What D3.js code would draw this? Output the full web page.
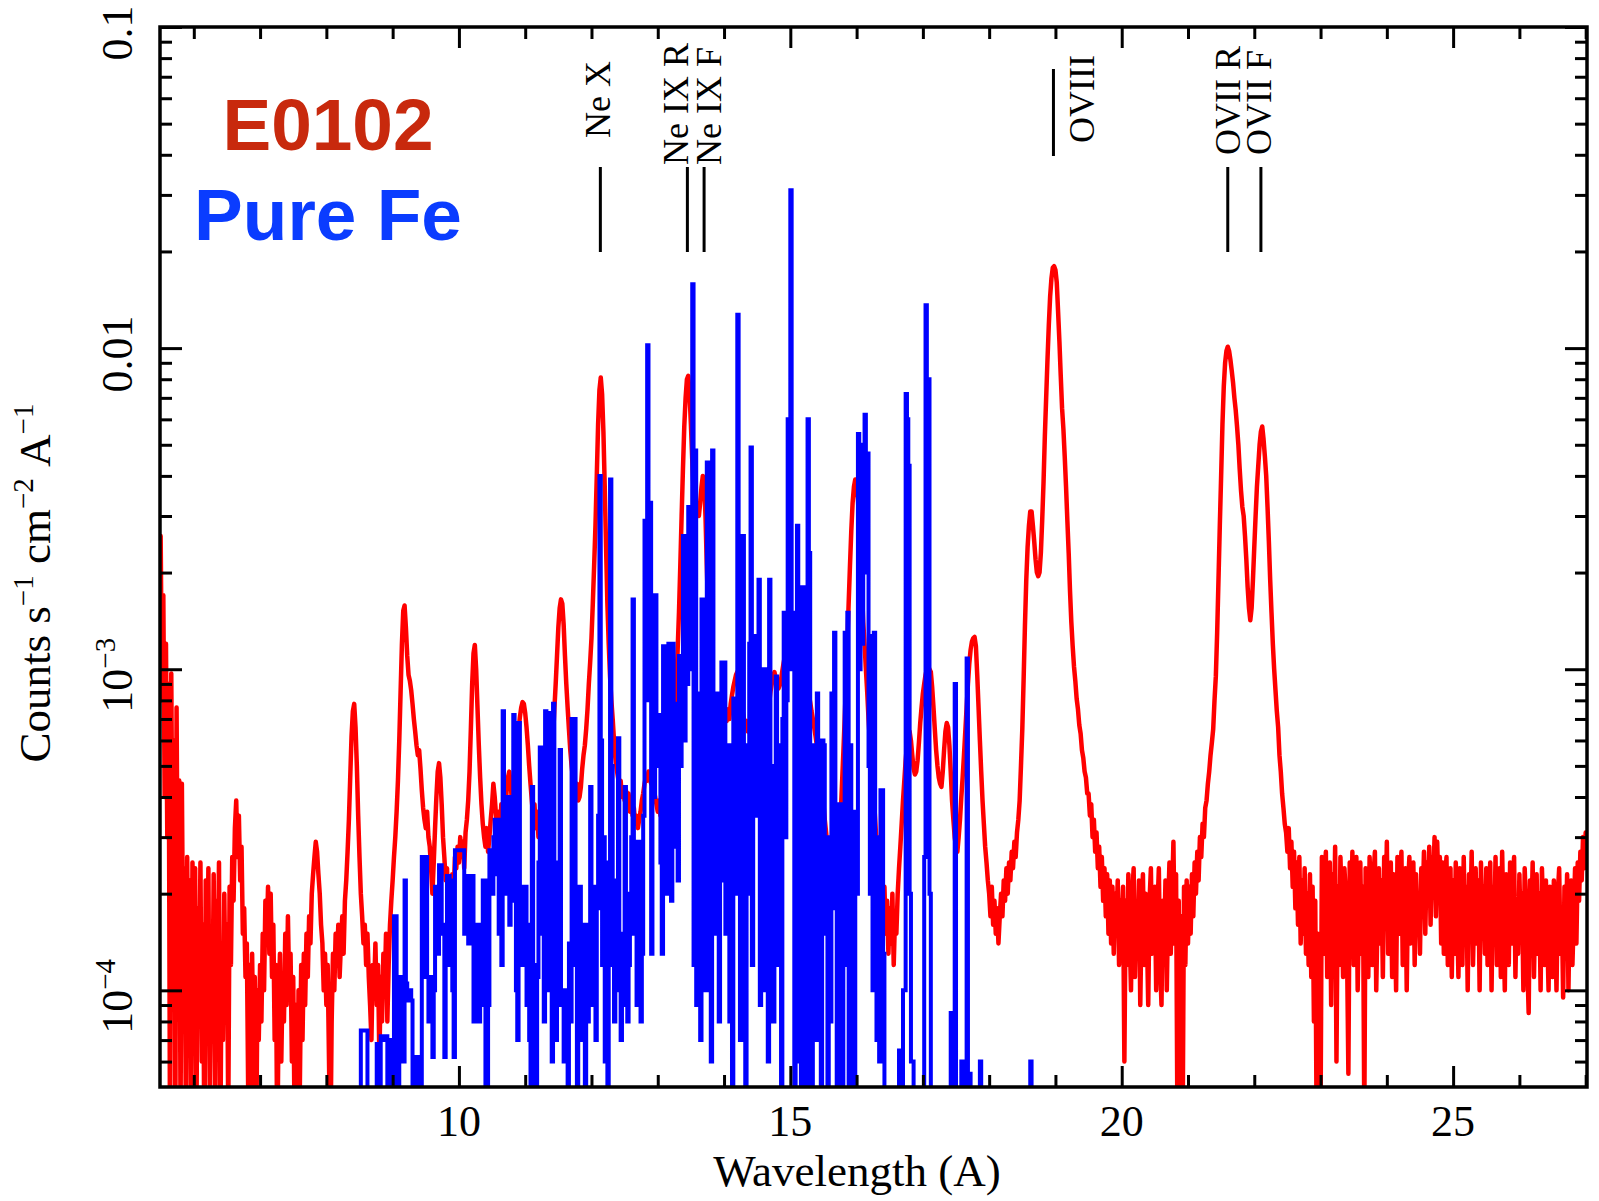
<!DOCTYPE html>
<html>
<head>
<meta charset="utf-8">
<script src="https://cdn.jsdelivr.net/npm/d3@7"></script>
<style>
  html, body { margin: 0; padding: 0; background: #fff; }
  svg { display: block; }
</style>
</head>
<body>
<div id="chart"></div>
<script>
// counts in units of 1e-4 counts s-1 cm-2 A-1
const countUnit = 1e-4;

// E0102 spectrum, 0.02 A bins from 5.50 A
const e0102Start = 5.50;
const e0102Step = 0.02;
const e0102Counts = [
  26, 8, 17, 4, 12, 3, 9, 0.4, 9.7, 2, 6, 0.3, 7.6, 1.5, 4.5, 0.4, 4.4, 1.2, 2.4, 0.4, 2.6, 0.8, 2.2, 0.3, 2.5,
  1.2, 2.4, 0.4, 1.8, 0.9, 2.5, 0.6, 1.6, 0.3, 2.2, 1.0, 2.4, 0.5, 1.5, 0.8, 2.3, 0.4, 1.9, 1.1, 2.5, 0.3, 1.4, 0.7, 2.0, 0.9,
  1.6, 0.4, 2.1, 1.2, 2.6, 1.9, 3.2, 3.9, 2.6, 3.5, 2.2, 2.8, 1.5, 1.8, 1.1, 1.4, 0.5, 1.2, 0.3, 1.3, 0.6, 1.1, 0.3, 1.0, 0.7,
  1.2, 0.8, 1.5, 1.0, 1.9, 1.4, 2.1, 1.3, 2.0, 1.1, 1.6, 0.7, 1.2, 0.3, 0.9, 1.3, 0.6, 1.1, 0.8, 1.5, 0.9, 1.7, 1.0, 1.3, 0.6,
  1.1, 0.4, 0.9, 0.3, 1.0, 0.5, 1.2, 0.7, 1.3, 0.9, 1.5, 1.1, 1.7, 1.4, 2.0, 2.3, 2.6, 2.9, 2.7, 2.3, 2.0, 1.6, 1.4, 1.0, 1.3,
  0.9, 1.2, 0.6, 0.3, 0.8, 1.3, 1.0, 1.5, 1.2, 1.6, 1.1, 1.4, 1.7, 1.3, 1.9, 2.2, 2.7, 3.4, 4.6, 6.2, 7.4, 7.8, 6.6, 5.0, 3.5,
  2.6, 2.0, 1.7, 1.4, 1.6, 1.2, 1.5, 1.1, 0.9, 0.7, 1.2, 1.0, 1.4, 0.9, 1.2, 0.6, 1.1, 0.8, 1.3, 1.0, 1.5, 0.8, 1.2, 1.6, 1.9,
  2.2, 2.6, 3.0, 3.6, 4.5, 6.0, 8.5, 12.0, 15.2, 15.8, 13.5, 11.0, 9.6, 9.2, 8.6, 7.8, 7.0, 6.4, 5.8, 5.4, 5.6, 4.9, 4.2, 3.7, 3.4,
  3.2, 3.6, 3.0, 2.8, 2.4, 2.0, 2.5, 3.2, 4.0, 4.8, 5.1, 4.6, 3.8, 3.0, 2.6, 2.2, 2.4, 1.9, 1.6, 2.0, 2.3, 2.0, 2.6, 2.4, 2.8,
  2.5, 3.0, 2.6, 2.9, 2.4, 3.1, 3.4, 3.9, 4.8, 6.5, 9.0, 11.2, 11.9, 10.0, 7.6, 5.8, 4.6, 3.8, 3.3, 3.0, 2.8, 3.2, 2.7, 3.0, 3.4,
  3.8, 4.4, 4.0, 3.5, 3.1, 3.6, 3.2, 3.8, 3.4, 4.0, 3.6, 4.2, 4.6, 4.8, 4.4, 3.9, 4.3, 4.8, 5.3, 5.9, 6.5, 7.1, 7.6, 7.9, 7.8,
  7.3, 6.6, 5.8, 5.0, 4.4, 3.9, 3.5, 3.8, 3.2, 3.6, 3.0, 3.4, 2.9, 3.3, 3.7, 3.2, 3.8, 3.4, 4.0, 4.5, 5.2, 6.2, 7.5, 9.0, 11.0,
  13.5, 15.5, 16.5, 16.0, 13.8, 11.0, 9.0, 7.6, 6.5, 5.6, 5.0, 4.6, 4.3, 4.0, 4.4, 3.9, 4.0, 4.3, 4.9, 5.4, 5.8, 6.5, 7.5, 9.0, 10.5,
  12.5, 16, 21, 28, 40, 58, 74, 81, 72, 55, 37, 24, 16, 12, 9.5, 8.0, 7.0, 6.0, 5.3, 4.9, 4.6, 4.3, 4.5, 4.0, 4.2,
  3.9, 4.2, 3.8, 4.1, 3.6, 3.9, 3.5, 3.7, 3.3, 3.5, 3.2, 3.4, 3.6, 3.9, 4.1, 4.4, 4.6, 4.5, 4.8, 4.6, 4.4, 4.7, 4.3, 4.0, 3.8,
  3.6, 3.9, 3.5, 3.8, 3.4, 3.7, 3.5, 3.9, 3.6, 4.0, 4.3, 5.0, 6.0, 7.5, 9.0, 11.5, 15, 21, 30, 42, 57, 70, 80, 82, 72,
  58, 45, 36, 31, 30, 32, 30, 33, 37, 40, 38, 30, 21, 15, 11, 9.5, 8.5, 7.5, 7.0, 6.6, 6.4, 6.8, 6.2, 6.6, 6.3,
  6.8, 7.2, 6.9, 7.5, 7.0, 7.8, 8.3, 8.8, 9.2, 9.6, 9.8, 9.4, 8.7, 8.0, 7.4, 7.0, 6.6, 6.9, 6.4, 6.7, 6.3, 6.5, 6.8, 6.4, 6.9,
  7.2, 7.8, 8.2, 7.9, 7.4, 7.0, 6.6, 6.9, 7.3, 7.8, 8.5, 9.0, 9.5, 9.8, 9.4, 9.0, 8.7, 8.9, 9.3, 9.9, 10.5, 11.0, 11.3, 11.0, 11.4,
  11.8, 12.3, 12.8, 13.2, 13.0, 12.4, 13.0, 13.5, 12.8, 11.9, 10.8, 9.9, 9.2, 8.8, 8.3, 7.9, 7.4, 7.0, 6.6, 6.2, 5.8, 5.4, 5.0, 4.6, 4.2,
  3.8, 3.4, 3.1, 2.8, 2.6, 2.4, 2.2, 2.0, 2.3, 2.0, 2.2, 2.5, 2.9, 3.5, 4.4, 5.5, 7.0, 9.0, 12, 16, 21, 27, 33, 37, 39,
  38, 34, 28, 22, 18, 14, 12, 10, 8.5, 7.0, 6.0, 5.2, 4.6, 4.0, 3.4, 2.9, 2.5, 2.3, 2.0, 2.3, 1.7, 2.1, 1.5, 1.9, 1.3,
  1.8, 1.4, 2.0, 1.2, 1.7, 1.5, 2.0, 2.4, 2.8, 3.3, 3.9, 4.5, 5.2, 5.8, 6.3, 6.4, 6.0, 5.4, 4.9, 4.7, 4.8, 5.2, 5.9, 6.8, 7.6,
  8.4, 9.0, 9.6, 10.0, 10.2, 10.0, 9.8, 8.8, 7.6, 6.5, 5.6, 5.0, 4.6, 4.4, 4.3, 4.8, 5.6, 6.4, 6.8, 6.6, 5.8, 4.8, 3.9, 3.4, 3.0,
  2.8, 2.7, 3.0, 3.4, 4.0, 4.6, 5.4, 6.4, 7.6, 9.0, 10.4, 11.5, 12.2, 12.5, 12.6, 11.8, 9.6, 7.6, 6.0, 4.8, 3.9, 3.3, 2.8, 2.5, 2.2,
  2.0, 1.7, 2.1, 1.6, 1.9, 1.5, 1.8, 1.4, 1.7, 2.0, 1.7, 2.2, 1.9, 2.4, 2.0, 2.5, 2.2, 2.7, 2.4, 2.9, 2.6, 3.1, 3.4, 3.9, 5.0,
  6.5, 9.3, 13.7, 19, 24, 28, 31, 31, 28, 25, 22, 20, 19.5, 20, 23, 29, 38, 53, 70, 92, 118, 145, 165, 178, 180,
  175, 160, 130, 105, 82, 65, 56, 46, 37, 29, 23, 17.5, 14, 11.8, 10.2, 9.2, 8.1, 7.5, 6.7, 6.3, 5.6, 5.3, 4.8, 4.6, 4.1,
  4.1, 3.5, 3.8, 3.0, 3.4, 2.7, 3.1, 2.4, 2.8, 2.1, 2.6, 1.9, 2.4, 1.7, 2.3, 1.5, 2.2, 1.4, 2.1, 1.3, 2.0, 1.6, 2.2, 1.2, 1.9,
  1.6, 2.1, 0.6, 1.9, 1.2, 2.3, 1.5, 1.0, 2.0, 2.4, 1.1, 1.8, 1.4, 2.2, 0.9, 1.7, 2.3, 1.2, 2.0, 1.5, 0.9, 1.9, 2.4, 1.3, 1.7,
  2.1, 1.0, 1.8, 2.4, 1.2, 0.9, 1.9, 1.4, 2.2, 1.0, 1.8, 2.5, 1.3, 2.0, 2.9, 1.4, 2.3, 0.4, 1.9, 0.3, 1.7, 0.4, 2.1, 1.2, 2.2,
  1.4, 2.1, 1.5, 2.3, 1.7, 2.5, 2.0, 2.7, 2.2, 3.0, 2.6, 3.3, 3.0, 3.7, 3.9, 4.4, 4.8, 5.4, 5.9, 6.5, 8.0, 9.5, 13, 19, 28,
  40, 58, 76, 90, 98, 101, 98, 92, 85, 78, 70, 64, 57, 50, 42, 36, 32, 30, 26, 22, 18, 15.5, 14.2, 15.5, 19,
  24, 30, 37, 43, 50, 55, 57, 52, 46, 40, 32, 25, 19, 15, 12, 10, 8.6, 7.4, 6.6, 5.4, 4.8, 4.1, 3.7, 3.3, 3.1,
  2.7, 3.2, 2.4, 2.9, 2.1, 2.7, 1.8, 2.5, 1.6, 2.6, 1.4, 2.2, 1.5, 2.4, 1.3, 2.0, 1.2, 2.3, 1.1, 2.1, 0.8, 1.9, 0.4, 1.5, 0.3,
  0.4, 2.6, 1.3, 2.2, 2.7, 1.1, 1.9, 2.5, 0.9, 2.3, 1.5, 2.8, 0.6, 2.1, 1.2, 2.6, 1.8, 1.1, 2.4, 2.0, 1.3, 0.55, 2.5, 1.4, 2.7,
  1.2, 2.2, 2.6, 1.0, 1.8, 2.5, 1.3, 2.1, 0.4, 2.4, 1.5, 1.1, 2.6, 1.9, 1.2, 2.3, 2.7, 1.0, 1.7, 2.4, 1.4, 2.2, 1.1, 2.6, 1.6,
  2.9, 1.3, 2.0, 2.5, 1.1, 2.3, 1.7, 1.0, 2.6, 1.5, 2.2, 2.7, 1.2, 1.9, 2.4, 1.0, 2.1, 2.6, 1.4, 1.8, 2.5, 1.2, 2.3, 1.6, 2.0,
  1.3, 2.4, 1.8, 2.7, 1.5, 2.5, 2.0, 2.8, 1.6, 2.6, 2.2, 3.0, 1.7, 2.9, 2.0, 2.6, 1.4, 2.5, 1.3, 2.2, 2.6, 1.2, 1.9, 2.4, 1.1,
  2.2, 1.3, 2.5, 1.8, 1.1, 2.4, 2.0, 1.2, 2.6, 1.5, 2.1, 1.0, 2.3, 1.7, 2.7, 1.2, 1.9, 2.4, 1.4, 2.2, 1.0, 2.5, 1.6, 2.1, 1.3,
  2.4, 1.2, 1.9, 2.5, 1.0, 2.1, 1.5, 2.6, 1.2, 2.0, 2.4, 1.1, 2.7, 1.6, 1.0, 2.3, 1.8, 1.2, 2.5, 1.4, 2.1, 2.6, 1.1, 1.9, 1.3,
  2.3, 1.5, 2.0, 1.0, 2.4, 1.8, 1.2, 0.85, 2.2, 1.6, 2.5, 1.1, 1.9, 2.3, 1.3, 2.0, 1.0, 2.4, 1.7, 1.2, 2.2, 1.5, 1.0, 2.1, 1.6,
  1.1, 2.2, 1.6, 1.0, 2.0, 2.4, 1.3, 1.8, 0.95, 2.1, 1.5, 2.3, 1.0, 1.9, 2.2, 1.2, 1.7, 2.4, 1.4, 2.5, 1.9, 2.7, 2.2, 3.0, 2.4,
  3.1, 2.6
];

// Pure Fe model, 0.02 A bins from 8.50 A (0 = under the plot floor)
const pureFeStart = 8.50;
const pureFeStep = 0.02;
const pureFeCounts = [
  0, 0.75, 0.75, 0.75, 0.75, 0.75, 0, 0, 0, 0, 0, 0, 0, 0.68, 0.68, 0, 0.72, 0.72, 0.7, 0.72, 0.72, 0, 0.7, 0.7, 0,
  0, 1.7, 1.7, 0.6, 0, 1.1, 1.1, 1.1, 0.6, 2.2, 1.05, 1.0, 0.93, 1.0, 0.93, 0, 0, 0.62, 0.62, 0, 0, 0, 2.6, 2.6, 1.1,
  2.6, 1.1, 0.8, 1.1, 0.9, 0.62, 1.0, 2.1, 2.1, 1.3, 2.45, 2.45, 1.5, 1.6, 0.62, 1.3, 2.27, 2.27, 1.2, 2.2, 1.0, 0.62, 2.73, 2.73, 2.73,
  2.73, 2.73, 2.73, 2.73, 1.5, 2.27, 1.5, 1.4, 2.0, 2.27, 2.27, 0.8, 1.2, 0.9, 1.6, 0.8, 1.3, 0.9, 2.2, 2.2, 0, 0, 0.9, 2.73, 2.73,
  2.0, 3.0, 3.4, 2.3, 3.4, 1.5, 2.0, 1.2, 7.4, 2.5, 3.8, 2.0, 4.0, 1.6, 2.8, 1.9, 7.2, 2.2, 1.0, 0.7, 6.8, 1.2, 1.2, 1.3, 2.1,
  2.1, 0.9, 1.6, 0.7, 0, 4.3, 1.2, 0.65, 0, 1.1, 2.5, 5.7, 1.5, 5.7, 0.8, 7.4, 3.0, 1.0, 7.3, 1.6, 0.6, 7.8, 2.5, 0.7, 1.1,
  1.0, 5.6, 0.9, 1.0, 0.6, 1.0, 0.9, 0, 1.4, 0.8, 7.0, 1.6, 7.0, 1.2, 0, 2.1, 2.1, 0.7, 1.2, 1.6, 0, 1.6, 0.8, 1.2, 4.3,
  1.5, 0.9, 2.1, 0.7, 1.8, 3.5, 40, 6.0, 1.2, 3.0, 0.6, 2.5, 0, 2.0, 39, 5.0, 1.2, 0.8, 2.2, 1.0, 6.1, 1.5, 0.7, 1.4, 0.9,
  4.3, 1.5, 0.8, 1.2, 2.0, 3.0, 16.5, 1.5, 1.9, 0.9, 2.9, 1.6, 0.8, 1.3, 3.5, 29, 8.0, 102, 12, 33, 1.3, 11.8, 4.0, 17, 5.0,
  7.2, 7.2, 2.5, 1.3, 11.8, 3.0, 6.0, 2.0, 12, 4.5, 1.9, 12, 2.8, 7.8, 3.5, 2.2, 11, 5.0, 8.0, 26, 6.0, 17.6, 9.0, 32, 10,
  20, 158, 1.2, 48, 0.9, 8.4, 4.0, 0.7, 16.5, 5.0, 12, 1.0, 44, 9.0, 37, 0.6, 48, 5.5, 1.5, 2.5, 8.4, 0.8, 5.0, 10.5, 2.2,
  10.5, 1.5, 4.0, 5.8, 0.8, 3.0, 0, 8.1, 2.0, 6.0, 127, 10, 0.7, 5.0, 26, 4.0, 0, 5.8, 2.0, 12, 49, 1.2, 12.7, 3.5, 11,
  4.0, 19, 0.9, 7.0, 1.0, 10, 3.0, 6.0, 0.6, 19, 4.0, 2.8, 0.8, 5.0, 9.5, 1.2, 3.5, 5.8, 0, 7.0, 15, 3.0, 8.0, 60, 12,
  310, 10, 15, 0, 5.0, 28, 0.6, 8.4, 0, 18, 3.0, 18, 0.5, 60, 23, 4.0, 0, 5.8, 2.0, 0.7, 8.4, 3.5, 5.8, 0, 6.0,
  5.8, 1.5, 3.0, 0, 2.8, 0.8, 8.4, 1.8, 13, 3.5, 0, 3.8, 0.7, 3.8, 0, 1.2, 13, 4.0, 15, 0.5, 5.8, 1.5, 3.6, 0, 3.6,
  2.0, 54, 10, 50, 12, 45, 62, 20, 47, 5.0, 2.0, 12.7, 1.0, 13, 3.0, 0.7, 2.0, 0.6, 4.2, 4.2, 1.3, 0, 0, 0, 0,
  0, 0, 0, 0, 0, 0, 0, 0.65, 0.65, 0, 1.0, 1.0, 72, 60, 43, 2.0, 0.6, 0.6, 0, 0, 0, 0, 0, 0, 0,
  0, 2.6, 136, 40, 80, 2.0, 0, 0, 0, 0, 0, 0, 0, 0, 0, 0, 0, 0, 0, 0, 0, 0.85, 0.85, 0, 9.0,
  0, 0, 0, 0, 0.6, 0, 0, 0, 10.8, 0, 0.55, 0, 0, 0, 0, 0, 0, 0, 0.6, 0, 0, 0, 0, 0, 0,
  0, 0, 0, 0, 0, 0, 0, 0, 0, 0, 0, 0, 0, 0, 0, 0, 0, 0, 0, 0, 0, 0, 0, 0, 0,
  0, 0, 0, 0, 0, 0, 0.6, 0, 0, 0, 0
];

// identified lines
const lineNames = ['Ne X', 'Ne IX R', 'Ne IX F', 'OVIII', 'OVII R', 'OVII F'];
const lineWaves = [12.134, 13.447, 13.699, 18.97, 21.60, 22.10];

const xTickValues = [10, 15, 20, 25];
const yTickValues = [0.1, 0.01, 1e-3, 1e-4];
const yTickLabels = [['0.1', ''], ['0.01', ''], ['10', '\u22123'], ['10', '\u22124']];

// ---- layout ----
const W = 1599, H = 1201;
const pLeft = 160, pRight = 1587, pTop = 27, pBottom = 1087;
const serif = '"Liberation Serif", "Times New Roman", serif';

// marker line ends and label offsets
const markerLayout = [
  { y1: 167, y2: 252, dx: 10, ty: 138 },
  { y1: 167, y2: 252, dx: 1, ty: 165 },
  { y1: 167, y2: 252, dx: 17, ty: 165 },
  { y1: 69, y2: 156, dx: 41, ty: 143 },
  { y1: 167, y2: 252, dx: 12, ty: 155 },
  { y1: 167, y2: 252, dx: 10, ty: 155 }
];

const x = d3.scaleLinear().domain([5.49, 27.02]).range([pLeft, pRight]);
const y = d3.scaleLog().domain([5e-5, 0.1]).range([pBottom, pTop]);

const svg = d3.select('#chart').append('svg')
  .attr('width', W)
  .attr('height', H);

svg.append('rect').attr('width', W).attr('height', H).attr('fill', '#fff');

svg.append('defs').append('clipPath').attr('id', 'plotClip')
  .append('rect')
  .attr('x', pLeft).attr('y', pTop)
  .attr('width', pRight - pLeft).attr('height', pBottom - pTop);

const yv = v => v > 0 ? y(v * countUnit) : pBottom + 40;

const redPts = e0102Counts.map((v, i) => ({ w: e0102Start + i * e0102Step, v: v }));
const bluePts = pureFeCounts.map((v, i) => ({ w: pureFeStart + i * pureFeStep, v: v }));
bluePts.push({ w: pureFeStart + pureFeCounts.length * pureFeStep, v: pureFeCounts[pureFeCounts.length - 1] });

const plot = svg.append('g').attr('clip-path', 'url(#plotClip)');

plot.append('path')
  .datum(redPts)
  .attr('fill', 'none')
  .attr('stroke', '#ff0000')
  .attr('stroke-width', 4.5)
  .attr('stroke-linejoin', 'round')
  .attr('stroke-linecap', 'round')
  .attr('d', d3.line().x(d => x(d.w)).y(d => yv(d.v)));

plot.append('path')
  .datum(bluePts)
  .attr('fill', 'none')
  .attr('stroke', '#0000ff')
  .attr('stroke-width', 4)
  .attr('stroke-linejoin', 'miter')
  .attr('d', d3.line().curve(d3.curveStepAfter).x(d => x(d.w)).y(d => yv(d.v)));

// ---- axes (inward ticks on all four sides) ----
const xMinor = d3.range(6, 28).filter(v => v % 5 !== 0);
const yMinor = [];
[-5, -4, -3, -2].forEach(e => {
  for (let k = 2; k <= 9; k++) {
    const v = k * Math.pow(10, e);
    if (v > 5.01e-5 && v < 0.0999) yMinor.push(v);
  }
});

function tickStyle (g) {
  g.select('.domain').remove();
  g.selectAll('.tick text').remove();
  g.selectAll('.tick line').attr('stroke', '#000').attr('stroke-width', 3);
}

svg.append('g').attr('transform', `translate(0,${pBottom})`)
  .call(d3.axisBottom(x).tickValues(xTickValues).tickSize(-21)).call(tickStyle);
svg.append('g').attr('transform', `translate(0,${pBottom})`)
  .call(d3.axisBottom(x).tickValues(xMinor).tickSize(-12)).call(tickStyle);
svg.append('g').attr('transform', `translate(0,${pTop})`)
  .call(d3.axisTop(x).tickValues(xTickValues).tickSize(-21)).call(tickStyle);
svg.append('g').attr('transform', `translate(0,${pTop})`)
  .call(d3.axisTop(x).tickValues(xMinor).tickSize(-12)).call(tickStyle);
svg.append('g').attr('transform', `translate(${pLeft},0)`)
  .call(d3.axisLeft(y).tickValues(yTickValues).tickSize(-22)).call(tickStyle);
svg.append('g').attr('transform', `translate(${pLeft},0)`)
  .call(d3.axisLeft(y).tickValues(yMinor).tickSize(-12)).call(tickStyle);
svg.append('g').attr('transform', `translate(${pRight},0)`)
  .call(d3.axisRight(y).tickValues(yTickValues).tickSize(-22)).call(tickStyle);
svg.append('g').attr('transform', `translate(${pRight},0)`)
  .call(d3.axisRight(y).tickValues(yMinor).tickSize(-12)).call(tickStyle);

svg.append('rect')
  .attr('x', pLeft).attr('y', pTop)
  .attr('width', pRight - pLeft).attr('height', pBottom - pTop)
  .attr('fill', 'none')
  .attr('stroke', '#000')
  .attr('stroke-width', 3.5);

// tick labels
svg.append('g').selectAll('text')
  .data(xTickValues)
  .enter()
  .append('text')
  .attr('x', d => x(d))
  .attr('y', 1136)
  .attr('text-anchor', 'middle')
  .attr('font-family', serif)
  .attr('font-size', 44)
  .text(d => d);

const yLab = svg.append('g').selectAll('text')
  .data(yTickValues)
  .enter()
  .append('text')
  .attr('transform', d => `translate(132,${y(d) + 6}) rotate(-90)`)
  .attr('text-anchor', 'middle')
  .attr('font-family', serif)
  .attr('font-size', 44);
yLab.append('tspan').text((d, i) => yTickLabels[i][0]);
yLab.append('tspan')
  .attr('dy', -17)
  .attr('font-size', 29)
  .text((d, i) => yTickLabels[i][1]);

// axis titles
svg.append('text')
  .attr('x', 857)
  .attr('y', 1186)
  .attr('text-anchor', 'middle')
  .attr('font-family', serif)
  .attr('font-size', 45)
  .text('Wavelength (A)');

const yTitle = svg.append('text')
  .attr('transform', 'translate(50,583) rotate(-90)')
  .attr('text-anchor', 'middle')
  .attr('font-family', serif)
  .attr('font-size', 45);
[['Counts s', '\u22121'], ['\u00a0cm', '\u22122'], ['\u00a0A', '\u22121']].forEach((p, i) => {
  yTitle.append('tspan').attr('dy', i === 0 ? 0 : 17).text(p[0]);
  yTitle.append('tspan').attr('dy', -17).attr('font-size', 29).text(p[1]);
});

// line markers
const mk = svg.append('g').selectAll('g')
  .data(lineWaves)
  .enter()
  .append('g');
mk.append('line')
  .attr('x1', d => x(d)).attr('x2', d => x(d))
  .attr('y1', (d, i) => markerLayout[i].y1)
  .attr('y2', (d, i) => markerLayout[i].y2)
  .attr('stroke', '#000')
  .attr('stroke-width', 3);
mk.append('text')
  .attr('transform', (d, i) => `translate(${x(d) + markerLayout[i].dx},${markerLayout[i].ty}) rotate(-90)`)
  .attr('text-anchor', 'start')
  .attr('font-family', serif)
  .attr('font-size', 36)
  .text((d, i) => lineNames[i]);

// legend
svg.append('text')
  .attr('x', 328).attr('y', 150)
  .attr('text-anchor', 'middle')
  .attr('font-family', '"Liberation Sans", Arial, sans-serif')
  .attr('font-weight', 'bold')
  .attr('font-size', 73)
  .attr('fill', '#c8290d')
  .text('E0102');
svg.append('text')
  .attr('x', 328).attr('y', 240)
  .attr('text-anchor', 'middle')
  .attr('font-family', '"Liberation Sans", Arial, sans-serif')
  .attr('font-weight', 'bold')
  .attr('font-size', 73)
  .attr('fill', '#0a3cff')
  .text('Pure Fe');
</script>
</body>
</html>
